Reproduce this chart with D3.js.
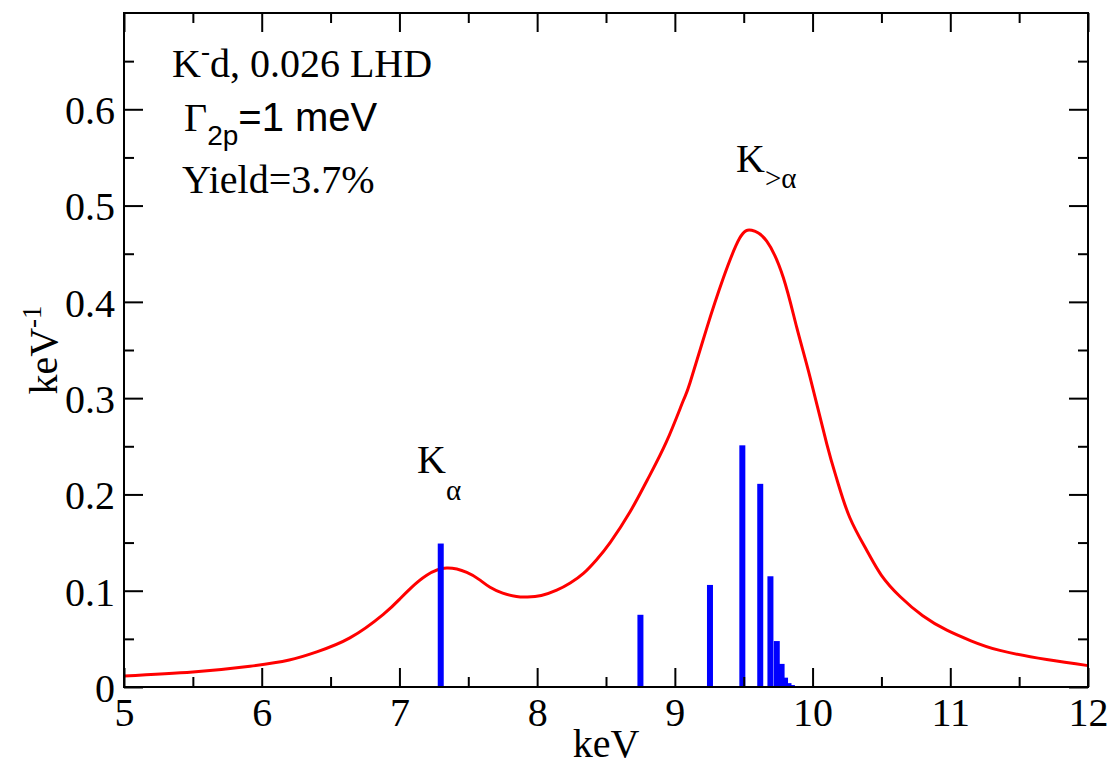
<!DOCTYPE html>
<html>
<head>
<meta charset="utf-8">
<script src="https://cdn.jsdelivr.net/npm/d3@7"></script>
<style>
  html, body { margin: 0; padding: 0; background: #fff; }
  svg { display: block; }
</style>
</head>
<body>
<svg id="chart"></svg>
<script>
// spectrum curve (keV, keV^-1)
const curveE = [5.0, 5.5, 5.915, 6.2, 6.4, 6.64, 6.883, 7.0, 7.077, 7.198, 7.343, 7.489, 7.58, 7.658, 7.75, 7.85, 7.93, 8.03, 8.142, 8.24, 8.336, 8.43, 8.53, 8.675, 8.8, 8.94, 9.06, 9.11, 9.23, 9.35, 9.47, 9.558, 9.667, 9.788, 9.885, 9.982, 10.103, 10.18, 10.27, 10.393, 10.5, 10.635, 10.8, 10.975, 11.15, 11.36, 11.7, 12.0];
const curveY = [0.0114, 0.0155, 0.0215, 0.028, 0.0365, 0.051, 0.0755, 0.091, 0.102, 0.116, 0.1235, 0.119, 0.1115, 0.1035, 0.0975, 0.094, 0.0935, 0.095, 0.1005, 0.108, 0.118, 0.132, 0.150, 0.182, 0.215, 0.255, 0.297, 0.316, 0.372, 0.424, 0.466, 0.4743, 0.463, 0.425, 0.3734, 0.3216, 0.2525, 0.214, 0.176, 0.142, 0.116, 0.094, 0.074, 0.059, 0.048, 0.038, 0.0285, 0.0222];

// line intensities (blue bars)
const lineE = [7.30, 8.75, 9.255, 9.49, 9.62, 9.694, 9.74, 9.775, 9.80, 9.825, 9.85];
const lineY = [0.149, 0.075, 0.106, 0.251, 0.211, 0.115, 0.0477, 0.024, 0.0097, 0.004, 0.002];

const xTicks = [5, 6, 7, 8, 9, 10, 11, 12];
const xMinor = [5.5, 6.5, 7.5, 8.5, 9.5, 10.5, 11.5];
const yTicks = [0, 0.1, 0.2, 0.3, 0.4, 0.5, 0.6];
const yMinor = [0.05, 0.15, 0.25, 0.35, 0.45, 0.55, 0.65];

const width = 1115, height = 767;
const margin = { top: 13, right: 27, bottom: 80, left: 124 };
const serif = "Liberation Serif";
const sans = "Liberation Sans";
const fs = 40;

const svg = d3.select("#chart")
  .attr("width", width)
  .attr("height", height)
  .attr("viewBox", [0, 0, width, height]);

const x = d3.scaleLinear().domain([5, 12]).range([margin.left, width - margin.right]);
const y = d3.scaleLinear().domain([0, 0.7]).range([height - margin.bottom, margin.top]);

// curve
const pts = curveE.map((e, i) => [e, curveY[i]]);
svg.append("path")
  .datum(pts)
  .attr("fill", "none")
  .attr("stroke", "#ff0000")
  .attr("stroke-width", 3)
  .attr("d", d3.line().x(d => x(d[0])).y(d => y(d[1])).curve(d3.curveNatural));

// bars
const barW = 6;
svg.append("g")
  .selectAll("rect")
  .data(lineE.map((e, i) => [e, lineY[i]]))
  .join("rect")
  .attr("x", d => x(d[0]) - barW / 2)
  .attr("y", d => y(d[1]))
  .attr("width", barW)
  .attr("height", d => y(0) - y(d[1]))
  .attr("fill", "#0000ff");

// axes, ticks pointing inwards on all four sides
const fmt = d => d === 0 ? "0" : d3.format(".1f")(d);
function styleAxis(g) {
  g.attr("font-family", serif).attr("font-size", fs);
  g.select(".domain").remove();
  g.selectAll(".tick line").attr("stroke", "#000").attr("stroke-width", 2);
  g.selectAll("text").attr("fill", "#000");
}

svg.append("g")
  .attr("transform", `translate(0,${y(0)})`)
  .call(d3.axisBottom(x).tickValues(xTicks).tickSize(-19).tickPadding(11).tickFormat(d3.format("d")))
  .call(styleAxis);
svg.append("g")
  .attr("transform", `translate(0,${y(0)})`)
  .call(d3.axisBottom(x).tickValues(xMinor).tickSize(-10).tickFormat(""))
  .call(styleAxis);
svg.append("g")
  .attr("transform", `translate(0,${y(0.7)})`)
  .call(d3.axisTop(x).tickValues(xTicks).tickSize(-19).tickFormat(""))
  .call(styleAxis);
svg.append("g")
  .attr("transform", `translate(0,${y(0.7)})`)
  .call(d3.axisTop(x).tickValues(xMinor).tickSize(-10).tickFormat(""))
  .call(styleAxis);

svg.append("g")
  .attr("transform", `translate(${x(5)},0)`)
  .call(d3.axisLeft(y).tickValues(yTicks).tickSize(-19).tickPadding(9).tickFormat(fmt))
  .call(styleAxis)
  .call(g => g.selectAll("text").attr("dy", "0.36em"));
svg.append("g")
  .attr("transform", `translate(${x(5)},0)`)
  .call(d3.axisLeft(y).tickValues(yMinor).tickSize(-10).tickFormat(""))
  .call(styleAxis);
svg.append("g")
  .attr("transform", `translate(${x(12)},0)`)
  .call(d3.axisRight(y).tickValues(yTicks).tickSize(-19).tickFormat(""))
  .call(styleAxis);
svg.append("g")
  .attr("transform", `translate(${x(12)},0)`)
  .call(d3.axisRight(y).tickValues(yMinor).tickSize(-10).tickFormat(""))
  .call(styleAxis);

// frame
svg.append("rect")
  .attr("x", x(5)).attr("y", y(0.7))
  .attr("width", x(12) - x(5)).attr("height", y(0) - y(0.7))
  .attr("fill", "none").attr("stroke", "#000").attr("stroke-width", 2);

// axis titles
svg.append("text")
  .attr("x", (x(5) + x(12)) / 2).attr("y", 757)
  .attr("text-anchor", "middle")
  .attr("font-family", serif).attr("font-size", fs)
  .text("keV");

const yl = svg.append("text")
  .attr("transform", `translate(57,${(y(0) + y(0.7)) / 2}) rotate(-90)`)
  .attr("text-anchor", "middle")
  .attr("font-family", serif).attr("font-size", fs);
yl.append("tspan").text("keV");
yl.append("tspan").attr("dy", -16).attr("font-size", 27).text("-1");

// annotations
const t1 = svg.append("text").attr("x", 172).attr("y", 77)
  .attr("font-family", serif).attr("font-size", fs);
t1.append("tspan").text("K");
t1.append("tspan").attr("dy", -17).attr("font-size", 27).text("-");
t1.append("tspan").attr("dy", 17).text("d, 0.026 LHD");

const t2 = svg.append("text").attr("x", 184).attr("y", 131)
  .attr("font-size", fs);
t2.append("tspan").attr("font-family", serif).text("Γ");
t2.append("tspan").attr("font-family", sans).attr("font-size", 28).attr("dy", 14).text("2p");
t2.append("tspan").attr("font-family", sans).attr("dy", -14).text("=1 meV");

svg.append("text").attr("x", 182).attr("y", 193)
  .attr("font-family", serif).attr("font-size", fs)
  .text("Yield=3.7%");

const ka = svg.append("text").attr("x", 417).attr("y", 473)
  .attr("font-family", serif).attr("font-size", fs);
ka.append("tspan").text("K");
ka.append("tspan").attr("dy", 27).attr("font-size", 29).text("α");

const kb = svg.append("text").attr("x", 736).attr("y", 172)
  .attr("font-family", serif).attr("font-size", fs);
kb.append("tspan").text("K");
kb.append("tspan").attr("dy", 16).attr("font-size", 29).text(">α");
</script>
</body>
</html>
